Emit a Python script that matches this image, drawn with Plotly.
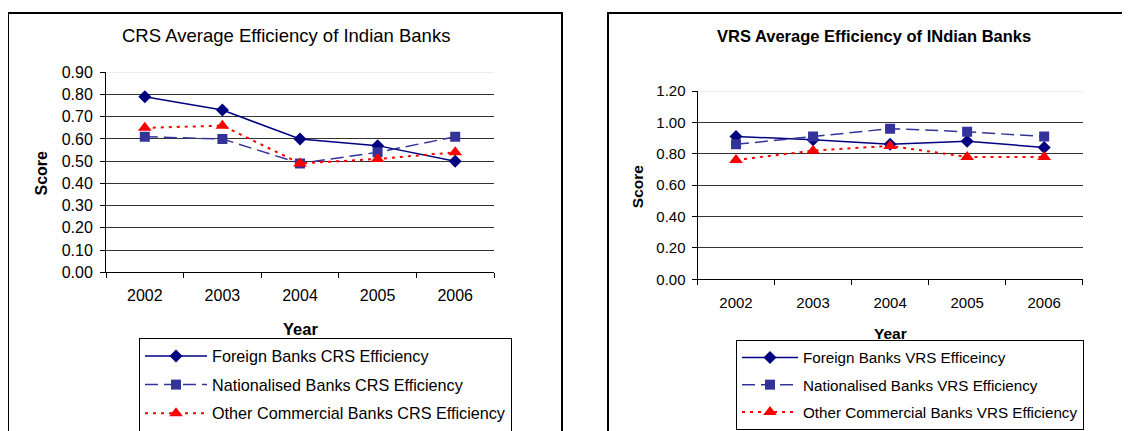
import plotly.graph_objects as go

years = ["2002", "2003", "2004", "2005", "2006"]

crs_foreign = [0.79, 0.73, 0.60, 0.57, 0.50]
crs_national = [0.61, 0.60, 0.49, 0.54, 0.61]
crs_other = [0.65, 0.66, 0.49, 0.51, 0.54]

vrs_foreign = [0.91, 0.89, 0.86, 0.88, 0.84]
vrs_national = [0.86, 0.91, 0.96, 0.94, 0.91]
vrs_other = [0.76, 0.82, 0.85, 0.78, 0.78]

crs_names = ["Foreign Banks CRS Efficiency",
             "Nationalised Banks CRS Efficiency",
             "Other Commercial Banks CRS Efficiency"]
vrs_names = ["Foreign Banks VRS Efficeincy",
             "Nationalised Banks VRS Efficiency",
             "Other Commercial Banks VRS Efficiency"]

# The page body has an 8px margin: the figure is sized so that it fills the window.
OX, OY = 8, 8
W, H = 1130 - OX, 431 - OY


def fx(px):
    return (px - OX) / W


def fy(py):
    return 1 - (py - OY) / H


FONT = "Arial, Liberation Sans, sans-serif"
NAVY = "#000080"
SLATE = "#333399"
RED = "#FF0000"

styles = [
    dict(line=dict(color=NAVY, width=1.5, dash="solid"),
         marker=dict(symbol="diamond", size=10, color=NAVY)),
    dict(line=dict(color=SLATE, width=1.5, dash="13px,6px"),
         marker=dict(symbol="square", size=10, color=SLATE)),
    dict(line=dict(color=RED, width=2, dash="3px,5px"),
         marker=dict(symbol="triangle-up", size=12, color=RED)),
]

fig = go.Figure()
for i, (vals, name) in enumerate(zip([crs_foreign, crs_national, crs_other], crs_names)):
    fig.add_trace(go.Scatter(x=years, y=vals, name=name, mode="lines+markers",
                             xaxis="x", yaxis="y", legend="legend",
                             legendgroup="c%d" % i, **styles[i]))
for i, (vals, name) in enumerate(zip([vrs_foreign, vrs_national, vrs_other], vrs_names)):
    fig.add_trace(go.Scatter(x=years, y=vals, name=name, mode="lines+markers",
                             xaxis="x2", yaxis="y2", legend="legend2",
                             legendgroup="v%d" % i, **styles[i]))


def xax(dom, anchor, size, standoff):
    return dict(domain=dom, anchor=anchor, type="category", range=[-0.5, 4.5],
                tickson="boundaries", ticks="outside", ticklen=5, tickcolor="black",
                showline=True, linecolor="black", linewidth=1, showgrid=False,
                tickfont=dict(size=size, color="black", family=FONT),
                ticklabelstandoff=standoff, fixedrange=True)


def yax(dom, anchor, rng, dtick, size, standoff):
    return dict(domain=dom, anchor=anchor, range=rng, dtick=dtick, tickformat=".2f",
                ticks="outside", ticklen=5, tickcolor="black", showline=True,
                linecolor="black", linewidth=1, showgrid=True, gridcolor="#333333",
                gridwidth=1, zeroline=False,
                tickfont=dict(size=size, color="black", family=FONT),
                ticklabelstandoff=standoff, fixedrange=True)


fig.update_layout(
    width=W, height=H, autosize=False,
    margin=dict(l=0, r=0, t=0, b=0, autoexpand=False),
    paper_bgcolor="white", plot_bgcolor="white",
    font=dict(family=FONT, color="black"),
    xaxis=xax([fx(106), fx(494)], "y", 16, 8),
    yaxis=yax([fy(272.3), fy(72.3)], "x", [0, 0.9], 0.1, 16, 4),
    xaxis2=xax([fx(697.5), fx(1082.7)], "y2", 15, 10),
    yaxis2=yax([fy(279.3), fy(91)], "x2", [0, 1.2], 0.2, 15, 3),
    legend=dict(x=fx(139), y=fy(338), xanchor="left", yanchor="top",
                bgcolor="white", bordercolor="black", borderwidth=1,
                font=dict(size=16.2, family=FONT, color="black"),
                traceorder="grouped", tracegroupgap=4.5, itemwidth=62),
    legend2=dict(x=fx(736), y=fy(340), xanchor="left", yanchor="top",
                 bgcolor="white", bordercolor="black", borderwidth=1,
                 font=dict(size=15.2, family=FONT, color="black"),
                 traceorder="grouped", tracegroupgap=4.5, itemwidth=56),
    showlegend=True,
)

shapes = [
    # chart area borders
    dict(type="rect", xref="paper", yref="paper", x0=fx(8), x1=fx(562),
         y0=-0.2, y1=fy(13), line=dict(color="black", width=2)),
    dict(type="rect", xref="paper", yref="paper", x0=fx(608), x1=1.2,
         y0=-0.2, y1=fy(13), line=dict(color="black", width=2)),
    # light top gridlines
    dict(type="line", xref="x domain", yref="y", x0=0.003, x1=1, y0=0.9, y1=0.9,
         line=dict(color="#e6e6e6", width=1.5), layer="above"),
    dict(type="line", xref="x2 domain", yref="y2", x0=0.003, x1=1, y0=1.2, y1=1.2,
         line=dict(color="#e6e6e6", width=1.5), layer="above"),
]
fig.update_layout(shapes=shapes)

annotations = [
    dict(text="CRS Average Efficiency of Indian Banks", x=fx(285.5), y=fy(36),
         font=dict(size=18.5)),
    dict(text="<b>VRS Average Efficiency of INdian Banks</b>", x=fx(874), y=fy(36),
         font=dict(size=16.5)),
    dict(text="<b>Score</b>", x=fx(40.5), y=fy(173), textangle=-90, font=dict(size=16)),
    dict(text="<b>Score</b>", x=fx(637.5), y=fy(186.7), textangle=-90, font=dict(size=15.5)),
    dict(text="<b>Year</b>", x=fx(300), y=fy(329), font=dict(size=16.5)),
    dict(text="<b>Year</b>", x=fx(890.7), y=fy(333.3), font=dict(size=15.5)),
]
for a in annotations:
    a.update(xref="paper", yref="paper", showarrow=False, xanchor="center",
             yanchor="middle")
    a["font"].update(family=FONT, color="black")
fig.update_layout(annotations=annotations)

fig.write_html("out.html")
